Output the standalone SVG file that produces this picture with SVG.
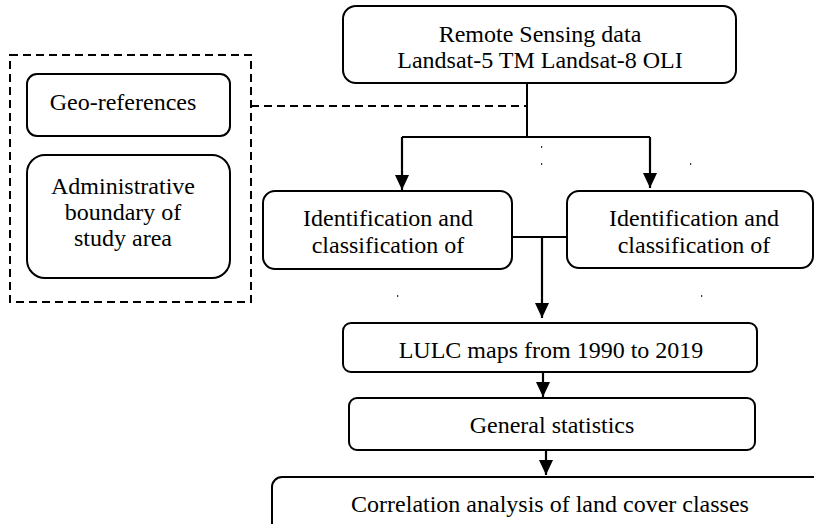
<svg xmlns="http://www.w3.org/2000/svg" width="814" height="524" viewBox="0 0 814 524">
  <defs>
    <marker id="arrow" viewBox="0 0 15 14" refX="15" refY="7" markerWidth="15" markerHeight="14" markerUnits="userSpaceOnUse" orient="auto">
      <path d="M0,0 L15,7 L0,14 Z" fill="#000"/>
    </marker>
  </defs>
  <style>
    .box { fill: #fff; stroke: #000; stroke-width: 2; }
    .dash { fill: none; stroke: #000; stroke-width: 2; stroke-dasharray: 8 5; }
    .line { fill: none; stroke: #000; stroke-width: 2.2; }
    .thin { fill: none; stroke: #000; stroke-width: 2; }
    .lbl { font-family: "Liberation Serif", "Times New Roman", serif; font-size: 24px; fill: #000; text-anchor: middle; }
    .speck { fill: #333; }
  </style>
  <rect width="814" height="524" fill="#fff"/>

  <g id="connectors">
    <path class="dash" d="M251,106 H527"/>
    <path class="thin" d="M527,83 V137"/>
    <path class="line" d="M402,137 H650"/>
    <path class="line" d="M402,137 V190" marker-end="url(#arrow)"/>
    <path class="line" d="M650,137 V188" marker-end="url(#arrow)"/>
    <path class="thin" d="M512,237 H567"/>
    <path class="line" d="M542,237 V318" marker-end="url(#arrow)"/>
    <path class="line" d="M543,372 V397" marker-end="url(#arrow)"/>
    <path class="line" d="M546,450 V475" marker-end="url(#arrow)"/>
  </g>

  <g id="remote-sensing">
    <rect class="box" x="343" y="6" width="393" height="77" rx="13"/>
    <text class="lbl" x="540" y="42">Remote Sensing data</text>
    <text class="lbl" x="540" y="68">Landsat-5 TM Landsat-8 OLI</text>
  </g>

  <g id="ancillary-group">
    <rect class="dash" x="10" y="55" width="241" height="247"/>
  </g>

  <g id="geo-references">
    <rect class="box" x="27" y="74" width="203" height="62" rx="10"/>
    <text class="lbl" x="123" y="110">Geo-references</text>
  </g>

  <g id="admin-boundary">
    <rect class="box" x="27" y="155" width="203" height="123" rx="18"/>
    <text class="lbl" x="123" y="194">Administrative</text>
    <text class="lbl" x="123" y="220">boundary of</text>
    <text class="lbl" x="123" y="246">study area</text>
  </g>

  <g id="ident-left">
    <rect class="box" x="263" y="191" width="249" height="78" rx="12"/>
    <text class="lbl" x="388" y="226">Identification and</text>
    <text class="lbl" x="388" y="253">classification of</text>
  </g>

  <g id="ident-right">
    <rect class="box" x="567" y="191" width="246" height="77" rx="12"/>
    <text class="lbl" x="694" y="226">Identification and</text>
    <text class="lbl" x="694" y="253">classification of</text>
  </g>

  <g id="lulc-maps">
    <rect class="box" x="343" y="323" width="414" height="49" rx="8"/>
    <text class="lbl" x="551" y="358">LULC maps from 1990 to 2019</text>
  </g>

  <g id="general-statistics">
    <rect class="box" x="349" y="398" width="406" height="52" rx="8"/>
    <text class="lbl" x="552" y="433">General statistics</text>
  </g>

  <g id="correlation">
    <rect class="box" x="272" y="477" width="560" height="60" rx="10"/>
    <text class="lbl" x="550" y="512">Correlation analysis of land cover classes</text>
  </g>

  <g id="specks">
    <rect class="speck" x="541" y="146" width="1.2" height="2"/>
    <rect class="speck" x="541" y="163" width="1.2" height="2"/>
    <rect class="speck" x="690" y="163" width="1.2" height="2"/>
    <rect class="speck" x="397" y="295" width="1.2" height="2"/>
    <rect class="speck" x="701" y="295" width="1.2" height="2"/>
  </g>
</svg>
